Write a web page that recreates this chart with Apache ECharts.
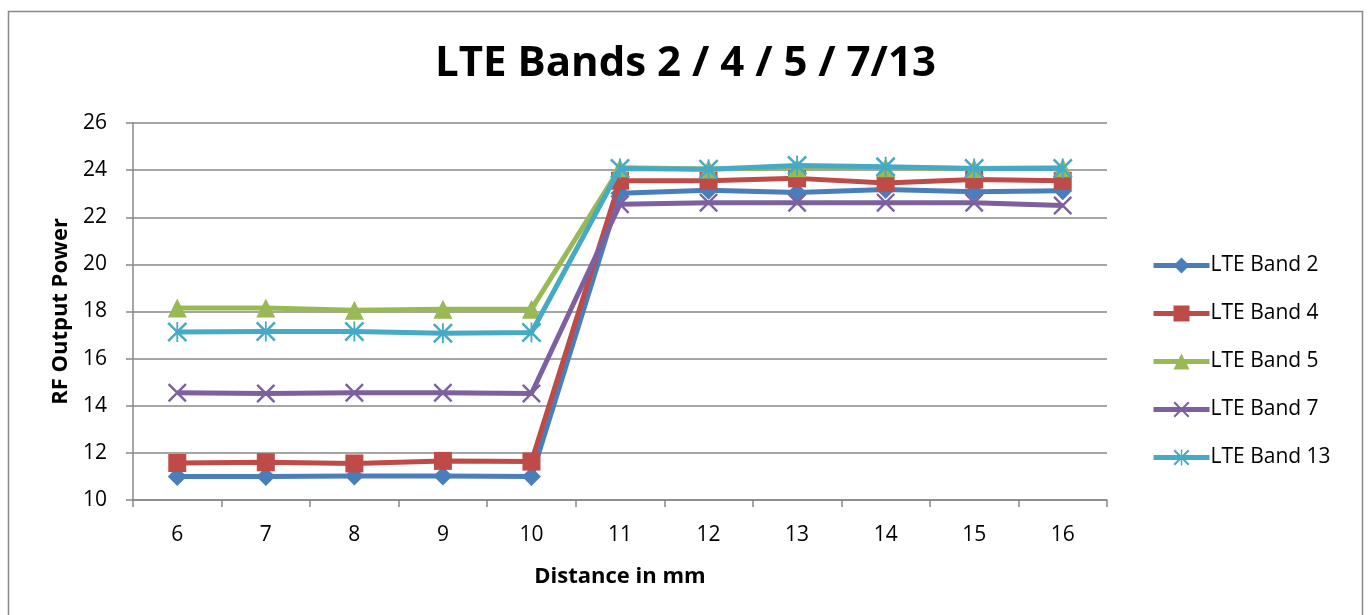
<!DOCTYPE html>
<html><head><meta charset="utf-8">
<script src="https://cdn.jsdelivr.net/npm/echarts@6/dist/echarts.min.js"></script>
<style>html,body{margin:0;padding:0;background:#fff}#c{width:1371px;height:615px}</style>
</head><body><div id="c"></div>
<script>
const categories = ['6','7','8','9','10','11','12','13','14','15','16'];
const band2  = [11.0, 11.0, 11.02, 11.02, 11.0, 23.02, 23.15, 23.05, 23.18, 23.08, 23.12];
const band4  = [11.57, 11.6, 11.55, 11.66, 11.63, 23.55, 23.55, 23.65, 23.45, 23.6, 23.55];
const band5  = [18.15, 18.15, 18.05, 18.1, 18.1, 24.1, 24.05, 24.1, 24.1, 24.07, 24.1];
const band7  = [14.55, 14.52, 14.55, 14.55, 14.52, 22.55, 22.62, 22.62, 22.62, 22.62, 22.5];
const band13 = [17.13, 17.15, 17.15, 17.08, 17.11, 24.07, 24.04, 24.2, 24.14, 24.07, 24.07];
const seriesNames = ['LTE Band 2','LTE Band 4','LTE Band 5','LTE Band 7','LTE Band 13'];
const yTicks = {min: 10, max: 26, interval: 2};

const xSym = 'path://M0,0.9L0.9,0L10,9.1L9.1,10Z M9.1,0L10,0.9L0.9,10L0,9.1Z';
const starSym = 'path://M0,0.9L0.9,0L10,9.1L9.1,10Z M9.1,0L10,0.9L0.9,10L0,9.1Z M4.55,0L5.45,0L5.45,10L4.55,10Z';

const colors = ['#4a7ebb','#be4b48','#98b954','#7d60a0','#46aac5'];
const symbols = ['diamond','rect','triangle',xSym,starSym];
const sizes = [19,18,19,19,20];
const datas = [band2, band4, band5, band7, band13];
const font = '"Open Sans", "Liberation Sans", sans-serif';

const chart = echarts.init(document.getElementById('c'));
chart.setOption({
  animation: false,
  backgroundColor: '#fff',
  color: colors,
  graphic: [{type:'rect', shape:{x:8.5,y:11.5,width:1354,height:620}, style:{fill:'none',stroke:'#888',lineWidth:1.5}, silent:true}],
  title: {text:'LTE Bands 2 / 4 / 5 / 7/13', left:'center', top:38, textStyle:{fontFamily:font, fontSize:42, fontWeight:'bold', color:'#000'}},
  grid: {left:133, right:264, top:123, bottom:115},
  legend: {
    orient:'vertical', left:1146, top:250, itemGap:27, itemWidth:56, itemHeight:20,
    lineStyle:{width:5},
    textStyle:{fontFamily:font, fontSize:21, color:'#000', padding:[0,0,0,-4]},
    data: seriesNames
  },
  xAxis: {
    type:'category', data:categories, boundaryGap:true,
    name:'Distance in mm', nameLocation:'middle', nameGap:66,
    nameTextStyle:{fontFamily:font, fontSize:22, fontWeight:'bold', color:'#000'},
    axisLine:{lineStyle:{color:'#888', width:1.5}},
    axisTick:{show:true, length:7, alignWithLabel:false, lineStyle:{color:'#888', width:1.5}},
    axisLabel:{fontFamily:font, fontSize:21, color:'#000', margin:25}
  },
  yAxis: {
    type:'value', min:yTicks.min, max:yTicks.max, interval:yTicks.interval,
    name:'RF Output Power', nameLocation:'middle', nameGap:61,
    nameTextStyle:{fontFamily:font, fontSize:22, fontWeight:'bold', color:'#000'},
    axisLine:{show:true, lineStyle:{color:'#888', width:1.5}},
    axisTick:{show:true, length:7, lineStyle:{color:'#888', width:1.5}},
    axisLabel:{fontFamily:font, fontSize:21, color:'#000', margin:26},
    splitLine:{lineStyle:{color:'#888', width:1.5}}
  },
  series: seriesNames.map((n,i)=>({
    name:n, type:'line', data:datas[i], symbol:symbols[i], symbolSize:sizes[i],
    showAllSymbol:true,
    lineStyle:{width:5, color:colors[i]},
    itemStyle:{color:colors[i]},
    z: 2 + i
  }))
});
</script></body></html>
